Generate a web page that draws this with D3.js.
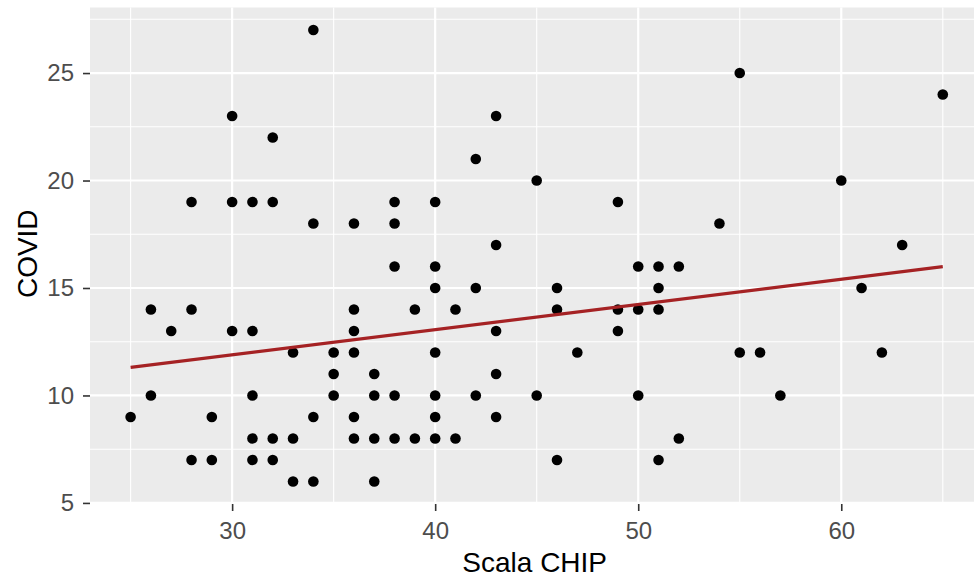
<!DOCTYPE html>
<html>
<head>
<meta charset="utf-8">
<script src="https://cdn.jsdelivr.net/npm/d3@7"></script>
<style>
  html, body { margin: 0; padding: 0; background: #fff; }
  svg { display: block; }
</style>
</head>
<body>
<svg id="chart" width="974" height="578"></svg>
<script>
// ---- data ----
const chipX = [25, 26, 26, 27, 28, 28, 28, 29, 29, 30, 30, 30,
  31, 31, 31, 31, 31, 32, 32, 32, 32, 33, 33, 33, 34, 34, 34, 34,
  35, 35, 35, 36, 36, 36, 36, 36, 36, 37, 37, 37, 37,
  38, 38, 38, 38, 38, 39, 39, 40, 40, 40, 40, 40, 40, 40,
  41, 41, 42, 42, 42, 43, 43, 43, 43, 43, 45, 45, 46, 46, 46, 47,
  49, 49, 49, 50, 50, 50, 51, 51, 51, 51, 52, 52, 54, 55, 55, 56, 57,
  60, 61, 62, 63, 65];
const covidY = [9, 14, 10, 13, 19, 14, 7, 9, 7, 23, 19, 13,
  19, 13, 10, 8, 7, 22, 19, 8, 7, 12, 8, 6, 27, 18, 9, 6,
  12, 11, 10, 18, 14, 13, 12, 9, 8, 11, 10, 8, 6,
  19, 18, 16, 10, 8, 14, 8, 19, 16, 15, 12, 10, 9, 8,
  14, 8, 21, 15, 10, 23, 17, 13, 11, 9, 20, 10, 15, 14, 7, 12,
  19, 14, 13, 16, 14, 10, 16, 15, 14, 7, 16, 8, 18, 25, 12, 12, 10,
  20, 15, 12, 17, 24];
const fitX = [25, 65];
const fitY = [11.31, 15.99];
const xTicks = [30, 40, 50, 60];
const yTicks = [5, 10, 15, 20, 25];
const xMinor = [25, 35, 45, 55, 65];
const yMinor = [7.5, 12.5, 17.5, 22.5, 27.5];
const xLabel = "Scala CHIP";
const yLabel = "COVID";

(function () {
// ---- layout ----
const svg = d3.select("#chart");
const pLeft = 90, pRight = 983.4, pTop = 7.5, pBottom = 504;

const x = d3.scaleLinear().domain([23, 67]).range([pLeft, pRight]);
const y = d3.scaleLinear().domain([4.95, 28.05]).range([pBottom, pTop]);

// panel
svg.append("rect")
  .attr("x", pLeft).attr("y", pTop)
  .attr("width", pRight - pLeft).attr("height", pBottom - pTop)
  .attr("fill", "#EBEBEB");

const grid = svg.append("g");
grid.selectAll(".xmin").data(xMinor).enter().append("line")
  .attr("x1", d => x(d)).attr("x2", d => x(d))
  .attr("y1", pTop).attr("y2", pBottom)
  .attr("stroke", "#fff").attr("stroke-width", 1.1);
grid.selectAll(".ymin").data(yMinor).enter().append("line")
  .attr("y1", d => y(d)).attr("y2", d => y(d))
  .attr("x1", pLeft).attr("x2", pRight)
  .attr("stroke", "#fff").attr("stroke-width", 1.1);
grid.selectAll(".xmaj").data(xTicks).enter().append("line")
  .attr("x1", d => x(d)).attr("x2", d => x(d))
  .attr("y1", pTop).attr("y2", pBottom)
  .attr("stroke", "#fff").attr("stroke-width", 2.2);
grid.selectAll(".ymaj").data(yTicks).enter().append("line")
  .attr("y1", d => y(d)).attr("y2", d => y(d))
  .attr("x1", pLeft).attr("x2", pRight)
  .attr("stroke", "#fff").attr("stroke-width", 2.2);

// points
const pts = chipX.map((v, i) => ({ x: v, y: covidY[i] }));
svg.append("g").selectAll("circle").data(pts).enter().append("circle")
  .attr("cx", d => x(d.x)).attr("cy", d => y(d.y))
  .attr("r", 5.3).attr("fill", "#000");

// regression line
const fit = fitX.map((v, i) => [v, fitY[i]]);
svg.append("path")
  .datum(fit)
  .attr("d", d3.line().x(d => x(d[0])).y(d => y(d[1])))
  .attr("fill", "none")
  .attr("stroke", "#A52224")
  .attr("stroke-width", 3.2);

// axes
const font = "'Liberation Sans', Arial, sans-serif";
const xAxis = svg.append("g")
  .attr("transform", `translate(0,${pBottom})`)
  .call(d3.axisBottom(x).tickValues(xTicks).tickSize(7).tickPadding(11).tickFormat(d3.format("d")));
const yAxis = svg.append("g")
  .attr("transform", `translate(${pLeft},0)`)
  .call(d3.axisLeft(y).tickValues(yTicks).tickSize(7).tickPadding(9).tickFormat(d3.format("d")));
[xAxis, yAxis].forEach(a => {
  a.select(".domain").remove();
  a.selectAll(".tick line").attr("stroke", "#333").attr("stroke-width", 1.6);
  a.selectAll(".tick text").attr("fill", "#4D4D4D")
    .style("font-family", font).style("font-size", "24px");
});

// titles
svg.append("text")
  .attr("x", (pLeft + pRight) / 2 - 2).attr("y", 572)
  .attr("text-anchor", "middle")
  .style("font-family", font).style("font-size", "28px")
  .attr("fill", "#000")
  .text(xLabel);
svg.append("text")
  .attr("transform", `translate(37,${(pTop + pBottom) / 2 - 2}) rotate(-90)`)
  .attr("text-anchor", "middle")
  .style("font-family", font).style("font-size", "28px")
  .attr("fill", "#000")
  .text(yLabel);
})();
</script>
</body>
</html>
